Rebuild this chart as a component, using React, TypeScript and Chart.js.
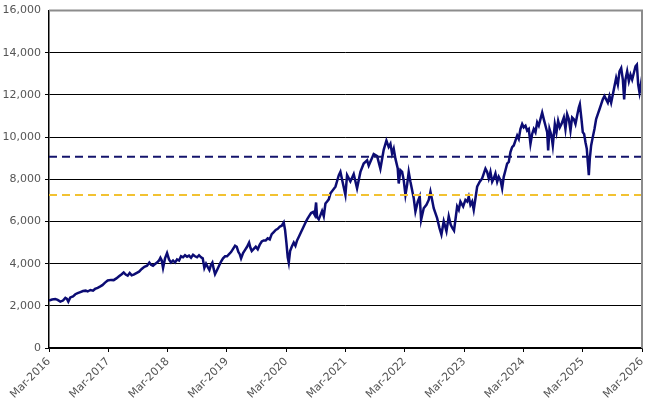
import { useEffect, useRef } from "react"
import { Chart, registerables } from "chart.js"

Chart.register(...registerables)

// months elapsed since Mar-2016
const monthsA = [
  0.0, 0.61, 1.28, 1.75, 2.29, 2.83, 3.31, 3.64, 3.91, 4.32, 4.86, 5.33, 5.8, 6.34, 6.88, 7.42, 7.83, 8.37, 8.91, 9.31,
  9.85, 10.39, 10.8, 11.34, 11.88, 12.55, 13.09, 13.63, 14.17, 14.71, 15.11, 15.52, 15.92, 16.33, 16.73, 17.14, 17.68,
  18.22, 18.76, 19.3, 19.84, 20.31, 20.65, 21.05, 21.46, 21.86, 22.27, 22.54, 22.81, 23.08, 23.48, 23.89, 24.29, 24.7,
  25.1, 25.51, 25.91, 26.32, 26.72, 27.13, 27.53, 27.94, 28.34, 28.74, 29.15, 29.55, 29.96, 30.36, 30.77, 31.11, 31.44,
  31.78, 32.11, 32.46, 32.79, 33.06, 33.33, 33.6, 34.01, 34.41, 34.82, 35.22, 35.63, 36.03, 36.44, 36.84, 37.25, 37.65,
  37.99, 38.33, 38.6, 38.87, 39.27, 39.68, 40.08, 40.49, 40.76, 41.03, 41.43, 41.84, 42.24, 42.65, 43.05, 43.45, 43.86,
  44.26, 44.67, 45.07, 45.48, 45.88, 46.29, 46.69, 47.1, 47.5, 47.77, 48.04, 48.31, 48.52, 48.79, 49.12, 49.53, 49.87,
  50.2, 50.61, 51.01, 51.42, 51.82, 52.23, 52.63, 53.04, 53.44, 53.78, 54.05, 54.25, 54.59, 54.93, 55.26, 55.6, 55.94,
  56.28, 56.61,
]
const levelsA = [
  2250, 2300, 2320, 2280, 2200, 2250, 2380, 2330, 2200, 2400, 2450, 2550, 2600, 2650, 2700, 2720, 2680, 2750, 2720, 2800,
  2850, 2920, 2980, 3100, 3200, 3230, 3220, 3300, 3400, 3500, 3580, 3480, 3430, 3560, 3450, 3480, 3550,
  3620, 3750, 3850, 3900, 4050, 3950, 3900, 3980, 4050, 4150, 4280, 4150, 3800, 4250, 4500, 4200, 4050,
  4150, 4050, 4200, 4150, 4350, 4300, 4400, 4330, 4380, 4280, 4420, 4350, 4300, 4400, 4300, 4250, 3800,
  4000, 3850, 3700, 3950, 4050, 3750, 3500, 3700, 3900, 4100, 4250, 4350, 4350, 4450, 4550, 4700, 4850,
  4800, 4550, 4450, 4250, 4500, 4650, 4800, 5000, 4750, 4600, 4700, 4800, 4680, 4900, 5050, 5100, 5100,
  5200, 5150, 5400, 5500, 5600, 5650, 5750, 5800, 5950, 5600, 5000, 4300, 4050, 4600, 4800, 5000, 4850,
  5100, 5300, 5500, 5700, 5900, 6100, 6250, 6400, 6450, 6300, 6900, 6200, 6100, 6300, 6500, 6250, 6850,
  6950, 7050,
]

const monthsB = [
  56.96, 57.97, 58.65, 58.97, 59.98, 60.32, 60.99, 61.66, 62.34, 63.02, 63.68, 64.37, 64.7, 65.71, 66.4, 67.06, 67.73,
  68.28, 68.74, 69.09, 69.43, 69.76, 70.1, 70.57, 70.77, 71.11, 71.46, 71.78, 72.13, 72.47, 72.79, 73.14, 73.81, 74.15,
  74.62, 75.02, 75.3, 75.83, 76.38, 76.84, 77.19, 77.53, 77.85, 78.54, 79.01, 79.41, 79.88, 80.43, 80.89, 81.28, 81.62,
  81.96,
]
const levelsB = [
  7335, 7648, 8195, 8350, 7260, 8200, 7900, 8250, 7570, 8350, 8750, 8900, 8650, 9200, 9100, 8500, 9400,
  9840, 9530, 9680, 9210, 9450, 8980, 8510, 7800, 8430, 8350, 7960, 7260, 7740, 8350, 7880, 7100, 6470,
  6940, 7180, 6080, 6630, 6790, 7020, 7410, 7020, 6630, 6160, 5690, 5380, 6010, 5540, 6240, 5849, 5693,
  5568,
]

const monthsC = [
  82.59, 82.92, 83.26, 83.81, 84.27, 84.62, 84.94, 85.28, 85.63, 85.95, 86.3, 86.64, 87.17, 87.65, 87.98, 88.32, 88.66,
  88.99, 89.33, 89.68, 90.0, 90.34, 90.69, 91.01, 91.36, 91.7, 92.02, 92.37, 92.71, 93.04, 93.38, 93.72, 94.05, 94.39,
  94.74, 95.06, 95.4, 95.75, 96.07, 96.42, 96.76, 97.09, 97.43, 97.77, 98.1, 98.44, 98.79, 99.11, 99.45, 99.8, 100.12,
]
const levelsC = [
  6710, 6553, 6944, 6710, 7022, 6944, 7179, 6788, 6944, 6553, 7101, 7648, 7883, 8039, 8273, 8508, 8352,
  8039, 8352, 7883, 8039, 8273, 7883, 8117, 7961, 7570, 8117, 8430, 8743, 8821, 9290, 9525, 9603, 9838,
  10072, 9916, 10385, 10620, 10463, 10541, 10307, 10385, 9681, 10150, 10385, 10229, 10698, 10541, 10854, 11167, 10854,
]

const monthsD = [
  100.47, 100.81, 101.01, 101.28, 101.68, 101.95, 102.36, 102.69, 103.03, 103.37, 103.71, 104.18, 104.51, 104.85,
  105.19, 105.53, 105.86, 106.2, 106.54, 106.87, 107.21, 107.42, 107.75, 108.02, 108.29, 108.56, 108.83, 109.03,
  109.24, 109.44, 109.71, 110.04, 110.38, 110.72, 111.06, 111.4, 111.73, 112.07, 112.41, 112.75, 113.08, 113.42,
  113.76, 114.1, 114.43, 114.77, 115.11, 115.45, 115.79, 116.12, 116.39, 116.66, 117.0, 117.34, 117.67, 118.01,
  118.35, 118.69, 118.96, 119.23, 119.5, 119.77, 120.0,
]
const levelsD = [
  10541, 10229, 9369, 10385, 10072, 9603, 10620, 10229, 10776, 10463, 10620, 10932, 10385, 11089,
  10854, 10307, 10932, 10854, 10620, 11010, 11402, 11558, 10854, 10229, 10150, 9759, 9446, 8821,
  8195, 8977, 9603, 10000, 10385, 10854, 11089, 11323, 11558, 11792, 11949, 11792, 11636, 11949,
  11636, 12027, 12418, 12809, 12496, 13121, 13278, 12731, 11792, 12731, 13121, 12652, 12966, 12731,
  13043, 13356, 13434, 12496, 12105, 12496, 12105,
]

const referenceHigh = 9070
const referenceLow = 7260
const firstYear = 2016

const frameEdges = {
  id: "frameEdges",
  afterDatasetsDraw(chart: Chart) {
    const { ctx, chartArea } = chart
    ctx.save()
    ctx.strokeStyle = "#8c8c8c"
    ctx.lineWidth = 2
    ctx.beginPath()
    ctx.moveTo(chartArea.left, chartArea.top)
    ctx.lineTo(chartArea.right, chartArea.top)
    ctx.lineTo(chartArea.right, chartArea.bottom)
    ctx.stroke()
    ctx.restore()
  },
}

export default function App() {
  const chartRef = useRef<HTMLCanvasElement>(null)
  const chartInstance = useRef<Chart | null>(null)

  useEffect(() => {
    if (!chartRef.current) return
    if (chartInstance.current) chartInstance.current.destroy()

    const ctx = chartRef.current.getContext("2d")
    if (!ctx) return

    const series = [
      ...monthsA.map((m, i) => ({ x: m, y: levelsA[i] })),
      ...monthsB.map((m, i) => ({ x: m, y: levelsB[i] })),
      ...monthsC.map((m, i) => ({ x: m, y: levelsC[i] })),
      ...monthsD.map((m, i) => ({ x: m, y: levelsD[i] })),
    ]
    const font = { family: "'DejaVu Sans', Verdana, sans-serif", size: 11 }

    chartInstance.current = new Chart(ctx, {
      type: "line",
      data: {
        datasets: [
          {
            data: series,
            borderColor: "#0c0c74",
            borderWidth: 2.5,
            pointRadius: 0,
            tension: 0,
            order: 3,
          },
          {
            data: [
              { x: 0, y: referenceHigh },
              { x: 120, y: referenceHigh },
            ],
            borderColor: "#14146c",
            borderWidth: 2,
            borderDash: [8, 5],
            pointRadius: 0,
            order: 1,
          },
          {
            data: [
              { x: 0, y: referenceLow },
              { x: 120, y: referenceLow },
            ],
            borderColor: "#f2c232",
            borderWidth: 2,
            borderDash: [8, 5],
            pointRadius: 0,
            order: 2,
          },
        ],
      },
      options: {
        animation: false,
        responsive: true,
        maintainAspectRatio: false,
        layout: { padding: { top: 7, right: 19, left: 0, bottom: 0 } },
        plugins: {
          legend: { display: false },
          tooltip: { enabled: false },
        },
        scales: {
          x: {
            type: "linear",
            min: 0,
            max: 120,
            afterFit: (s) => {
              s.height = 61
            },
            ticks: {
              stepSize: 12,
              minRotation: 45,
              maxRotation: 45,
              color: "#555555",
              font,
              callback: (v) => "Mar-" + (firstYear + Number(v) / 12),
            },
            grid: { drawOnChartArea: false, color: "#000", tickLength: 4 },
            border: { color: "#000", width: 1.5 },
          },
          y: {
            min: 0,
            max: 16000,
            afterFit: (s) => {
              s.width = 49
            },
            ticks: {
              stepSize: 2000,
              color: "#555555",
              font,
              padding: 4,
              callback: (v) => Number(v).toLocaleString("en-US"),
            },
            grid: {
              color: (c) => (c.tick && c.tick.value === 16000 ? "rgba(0,0,0,0)" : "#000"),
              tickLength: 4,
            },
            border: { color: "#000", width: 1.5 },
          },
        },
      },
      plugins: [frameEdges],
    })

    return () => {
      if (chartInstance.current) chartInstance.current.destroy()
    }
  }, [])

  return (
    <div style={{ position: "absolute", left: 0, top: 0, width: 661, height: 409, background: "#fff" }}>
      <canvas ref={chartRef}></canvas>
    </div>
  )
}
